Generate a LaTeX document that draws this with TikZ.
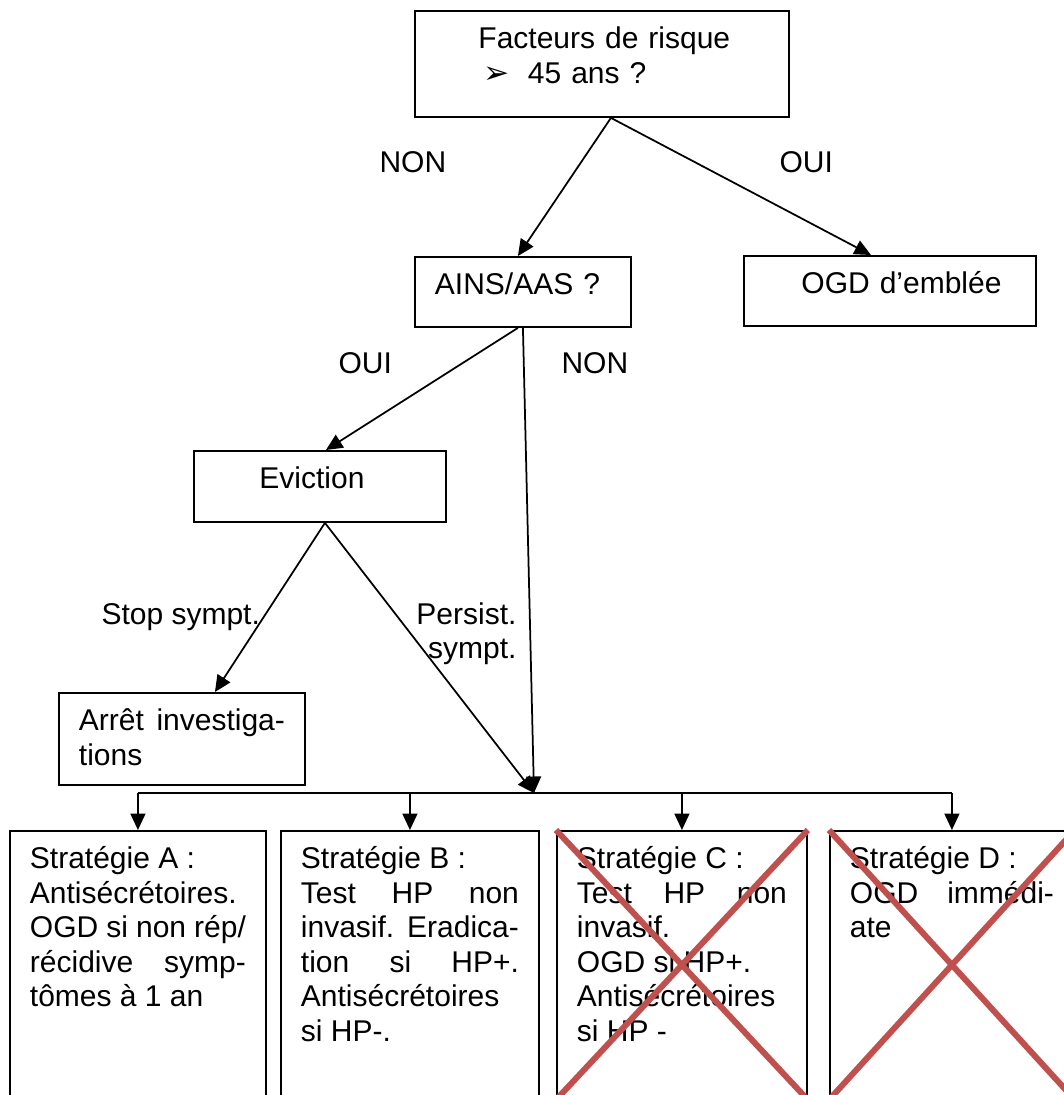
\documentclass[tikz,border=0pt]{standalone}
\usepackage{fontspec}
\setmainfont{Liberation Sans}
\newfontfamily\dingfont{DejaVu Sans}
\usepackage{xcolor}
\usepackage{tikz}
\usetikzlibrary{arrows.meta}

\definecolor{crossred}{HTML}{C0504D}
\tikzset{
  box/.style={draw, line width=0.75pt, anchor=north west, inner xsep=8pt, inner ysep=0pt,
    text height=15.2pt, align=left},
  stratbox/.style={box, text depth=92pt, align=justify},
  lbl/.style={inner sep=0pt, anchor=base west},
  arr/.style={line width=0.7pt, -{Triangle[length=6.6pt,width=6pt]}},
  xout/.style={crossred, line width=2.4pt}
}
\frenchspacing
\tolerance=10000

\begin{document}
\begin{tikzpicture}[x=0.4pt, y=-0.4pt, font=\fontsize{12}{13.8}\selectfont]
  \useasboundingbox (0,0) rectangle (1064,1095);
  \clip (0,0) rectangle (1064,1095);

  % Decision boxes (1 unit = 1 px of the page)
  \node[box, text width=133.6pt, text depth=27.2pt] (risk) at (414,10)
    {\hspace*{17.4pt}Facteurs de risque\newline
     \hspace*{19.6pt}\makebox[17.6pt][l]{\dingfont\fontsize{12.5}{12}\selectfont ➢}45 ans ?};
  \node[box, text width=70.4pt, text depth=12.8pt] (ains) at (414,256) {AINS/AAS ?};
  \node[box, text width=100.8pt, text depth=12.8pt] (ogd) at (743,255)
    {\hspace*{15pt}OGD d’emblée};
  \node[box, text width=84.8pt, text depth=13.2pt] (evic) at (193,450)
    {\hspace*{18.2pt}Eviction};
  \node[box, text width=82.4pt, text depth=21.6pt, align=justify] (arret) at (58,692)
    {Arrêt investiga-\linebreak tions};

  % Strategies
  \node[stratbox, text width=86.4pt] (sA) at (9,830)
    {Stratégie A :\newline Antisécrétoires.\newline OGD si non rép/\linebreak
     récidive symp-\linebreak tômes à 1 an};
  \node[stratbox, text width=87.2pt] (sB) at (280,830)
    {Stratégie B :\newline Test HP non\linebreak invasif. Eradica-\linebreak
     tion si HP+.\linebreak Antisécrétoires\newline si HP-.};
  \node[stratbox, text width=84pt] (sC) at (556,830)
    {Stratégie C :\newline Test HP non\linebreak invasif.\newline OGD si HP+.\newline
     Antisécrétoires\newline si HP -};
  \node[stratbox, text width=81.6pt] (sD) at (829,830)
    {Stratégie D :\newline OGD immédi-\linebreak ate};

  % Branch labels
  \node[lbl] (nonA) at (379,172) {NON};
  \node[lbl] (ouiA) at (779,172) {OUI};
  \node[lbl] (ouiB) at (338,373) {OUI};
  \node[lbl] (nonB) at (561,373) {NON};
  \node[lbl] (stop) at (101,624) {Stop sympt.};
  \node[inner sep=0pt, anchor=north east, align=right] (persist) at (517,602)
    {Persist.\\sympt.};

  % Connectors
  \coordinate (jn) at (534,793);
  \draw[arr] ([xshift=3.6pt]risk.south) -- ([xshift=-2pt]ains.north);
  \draw[arr] ([xshift=3.6pt]risk.south) -- ([xshift=-7.6pt]ogd.north);
  \draw[arr] ([xshift=-2pt]ains.south) -- ([xshift=2.4pt]evic.north);
  \draw[arr] (ains.south) -- (jn);
  \draw[arr] ([xshift=2pt]evic.south) -- ([xshift=13.2pt]arret.north);
  \draw[arr] ([xshift=2pt]evic.south) -- (jn);
  \draw[line width=0.7pt] (jn -| sA.north) -- (jn -| sD.north);
  \foreach \s in {sA,sB,sC,sD}
    \draw[arr] (jn -| \s.north) -- (\s.north);

  % Struck-out strategies
  \draw[xout] (sC.north west) -- (sC.south east) (sC.north east) -- (sC.south west);
  \draw[xout] (sD.north west) -- (sD.south east) (sD.north east) -- (sD.south west);
\end{tikzpicture}
\end{document}
